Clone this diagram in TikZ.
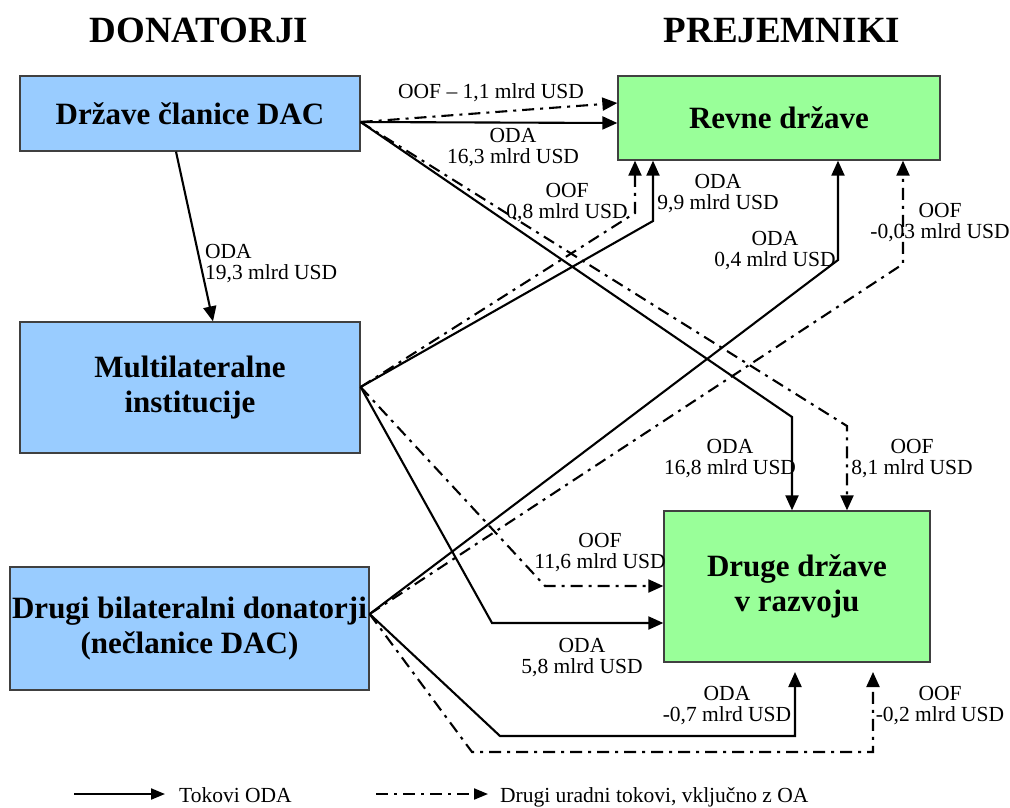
\documentclass[tikz,border=0pt]{standalone}
\usepackage{fontspec}
\setmainfont{Liberation Serif}
\usetikzlibrary{arrows.meta}
\definecolor{dblue}{HTML}{99CCFF}
\definecolor{dgreen}{HTML}{99FF99}
\begin{document}
\begin{tikzpicture}[x=1pt,y=-1pt,
  box/.style={draw=black!75, line width=1.3pt, inner sep=0pt, align=center, font=\fontsize{31}{35}\selectfont\bfseries},
  lbl/.style={font=\fontsize{21.5}{21}\selectfont, align=center, inner sep=0pt, anchor=base},
  tip/.style={-{Triangle[length=15pt,width=13pt]}},
  oda/.style={line width=2.1pt, tip},
  oof/.style={line width=2.1pt, dash pattern=on 12pt off 6pt on 3pt off 6pt, tip},
  hdr/.style={font=\fontsize{37}{40}\selectfont\bfseries, inner sep=0pt, anchor=base}]
\useasboundingbox (0,0) rectangle (1010,807);

% headers
\node[hdr] (hdon) at (199,42) {DONATORJI};
\node[hdr] (hpre) at (782,42) {PREJEMNIKI};

% boxes
\node[box, fill=dblue, minimum width=340pt, minimum height=75pt] (dac) at (190,113.5) {Države članice DAC};
\node[box, fill=dblue, minimum width=340pt, minimum height=131pt] (multi) at (190,387.5) {Multilateralne\\institucije};
\node[box, fill=dblue, minimum width=359pt, minimum height=123pt] (bil) at (189.5,628.5) {Drugi bilateralni donatorji\\(nečlanice DAC)};
\node[box, fill=dgreen, minimum width=322pt, minimum height=84pt] (revne) at (779,118) {Revne države};
\node[box, fill=dgreen, minimum width=266pt, minimum height=151pt] (druge) at (797,586.5) {Druge države\\v razvoju};

% start points
\coordinate (dacO) at (dac.east |- 0,122);
\coordinate (mulO) at (multi.east |- 0,387);
\coordinate (bilO) at (bil.east |- 0,614);

% DAC flows
\draw[oof] (dacO) -- (revne.west |- 0,103);
\draw[oda] (dacO) -- (revne.west |- 0,123);
\draw[oda] (dacO) -- (792,417) -- (792,0 |- druge.north);
\draw[oof] (dacO) -- (847,426) -- (847,0 |- druge.north);
\draw[oda] (dac.south -| 176,0) -- (multi.north -| 213,0);

% multilateral flows
\draw[oof] (mulO) -- (635,213) -- (635,0 |- revne.south);
\draw[oda] (mulO) -- (653,221) -- (653,0 |- revne.south);
\draw[oda] (mulO) -- (492,623) -- (druge.west |- 0,623);
\draw[oof] (mulO) -- (545,586) -- (druge.west |- 0,586);

% bilateral flows
\draw[oda] (bilO) -- (838,260) -- (838,0 |- revne.south);
\draw[oof] (bilO) -- (903,264) -- (903,0 |- revne.south);
\draw[oda] (bilO) -- (500,736) -- (795,736) -- (795,672);
\draw[oof] (bilO) -- (472,752) -- (873,752) -- (873,672);

% labels
\node[lbl] (l1) at (491,98) {OOF – 1,1 mlrd USD};
\node[lbl] (l2) at (513,163.5) {ODA\\16,3 mlrd USD};
\node[lbl] (l3) at (567,218) {OOF\\0,8 mlrd USD};
\node[lbl] (l4) at (718,209) {ODA\\9,9 mlrd USD};
\node[lbl] (l5) at (775,266) {ODA\\0,4 mlrd USD};
\node[lbl] (l6) at (940,238) {OOF\\-0,03 mlrd USD};
\node[lbl] (l7) at (730,474) {ODA\\16,8 mlrd USD};
\node[lbl] (l8) at (912,474) {OOF\\8,1 mlrd USD};
\node[lbl] (l9) at (600,568) {OOF\\11,6 mlrd USD};
\node[lbl] (l10) at (582,673) {ODA\\5,8 mlrd USD};
\node[lbl] (l11) at (727,721) {ODA\\-0,7 mlrd USD};
\node[lbl] (l12) at (940,721) {OOF\\-0,2 mlrd USD};
\node[lbl, align=left, anchor=base west] (l13) at (205,279) {ODA\\19,3 mlrd USD};

% legend
\coordinate (la1) at (74,794);
\coordinate (la2) at (165,794);
\coordinate (lb1) at (376,794);
\coordinate (lb2) at (488,794);
\draw[line width=2pt, -{Triangle[length=14pt,width=11pt]}] (la1) -- (la2);
\draw[line width=2pt, dash pattern=on 12pt off 6pt on 3pt off 6pt, -{Triangle[length=14pt,width=11pt]}] (lb1) -- (lb2);
\node[lbl, anchor=base west] (lt1) at (179,802) {Tokovi ODA};
\node[lbl, anchor=base west] (lt2) at (500,802) {Drugi uradni tokovi, vključno z OA};
\end{tikzpicture}
\end{document}
